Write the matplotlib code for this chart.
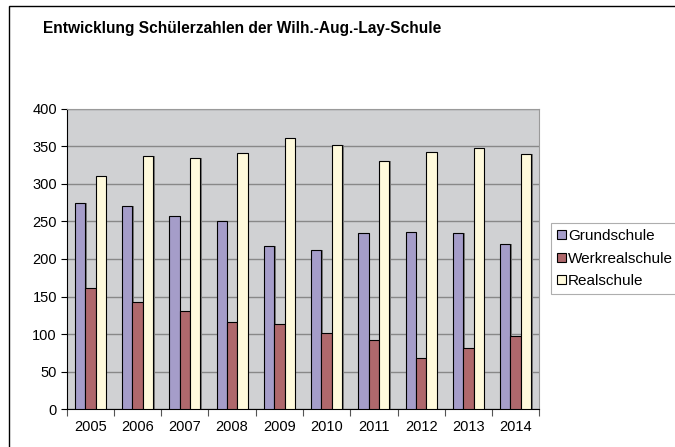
import matplotlib
matplotlib.use("Agg")
import matplotlib.pyplot as plt
from matplotlib import font_manager
import numpy as np
from matplotlib.patches import Rectangle

names = {f.name for f in font_manager.fontManager.ttflist}
narrow = 'Liberation Sans Narrow' in names
print('narrow available:', narrow)
plt.rcParams['font.family'] = ['Liberation Sans', 'DejaVu Sans']

years = ['2005', '2006', '2007', '2008', '2009', '2010', '2011', '2012', '2013', '2014']
grundschule = [275, 271, 257, 251, 217, 212, 234, 236, 234, 220]
werkrealschule = [162, 143, 131, 116, 114, 102, 92, 68, 82, 97]
realschule = [311, 337, 335, 341, 361, 352, 331, 343, 348, 340]
series_names = ['Grundschule', 'Werkrealschule', 'Realschule']
colors = ['#A59DC9', '#AF686C', '#FFFADC']

tfam = ['Liberation Sans Narrow', 'DejaVu Sans'] if narrow else ['Liberation Sans', 'DejaVu Sans']

fig = plt.figure(figsize=(6.75, 4.47), dpi=100)
fig.patch.set_facecolor('white')
fig.patches.append(Rectangle((9/675, -0.05), 1.2, (447-6)/447 + 0.05,
                             transform=fig.transFigure, fill=False,
                             edgecolor='black', linewidth=1.0))

ax = fig.add_axes([66.7/675, (447-409.3)/447, (539.3-66.7)/675, (409.3-108.7)/447])
ax.set_facecolor('#D0D1D3')

x = np.arange(len(years))
w = 0.22
data = [grundschule, werkrealschule, realschule]
for i, (vals, c, name) in enumerate(zip(data, colors, series_names)):
    pos = x + (i - 1) * w
    ax.bar(pos + 0.03, vals, width=w, color='#7a7a7a', edgecolor='none', zorder=2)
    ax.bar(pos, vals, width=w, color=c, edgecolor='black', linewidth=0.8,
           label=name, zorder=3)

ax.set_xlim(-0.5, len(years) - 0.5)
ax.set_ylim(0, 400)
ax.set_yticks(range(0, 401, 50))
ax.yaxis.grid(True, color='#888888', linewidth=1.0)
ax.set_axisbelow(True)

ax.set_xticks(np.arange(-0.5, len(years), 1.0))
ax.set_xticklabels([])
ax.set_xticks(x, minor=True)
ax.set_xticklabels(years, minor=True)
lsize = 12 if narrow else 10.5
ax.tick_params(axis='x', which='major', length=5, direction='out', color='#555555')
ax.tick_params(axis='x', which='minor', length=0, pad=8, labelsize=lsize)
ax.tick_params(axis='y', length=4, direction='out', labelsize=lsize, pad=3)
for lab in ax.get_xticklabels(minor=True) + ax.get_yticklabels():
    lab.set_family(tfam)

for s in ['top', 'right']:
    ax.spines[s].set_color('#9a9a9a')
ax.spines['left'].set_color('black')
ax.spines['bottom'].set_color('black')

fig.text(43/675, 1 - 28/447, 'Entwicklung Schülerzahlen der Wilh.-Aug.-Lay-Schule',
         fontsize=13.5 if narrow else 11.2, fontweight='bold', ha='left', va='center',
         family=tfam)

handles, labels = ax.get_legend_handles_labels()
leg = fig.legend(handles, labels, loc='upper left',
                 bbox_to_anchor=(551/675, 1 - 223/447), fontsize=11,
                 frameon=True, fancybox=False, edgecolor='#9a9a9a',
                 handlelength=0.55, handleheight=0.55, handletextpad=0.15,
                 labelspacing=0.55, borderpad=0.4, borderaxespad=0)
leg.get_frame().set_linewidth(0.8)

fig.savefig('out.png', dpi=100)
